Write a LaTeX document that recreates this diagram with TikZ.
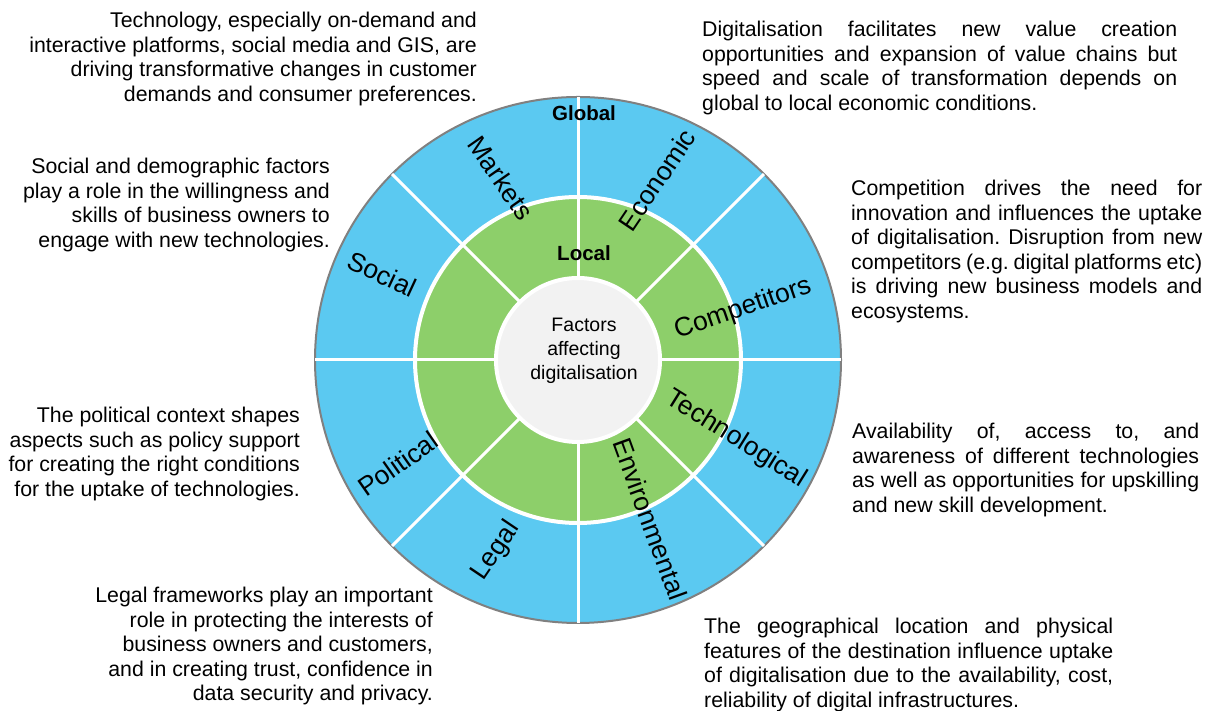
\documentclass[tikz,border=0pt]{standalone}
\usepackage{fontspec}
\setmainfont{Liberation Sans}
\frenchspacing
\definecolor{ringblue}{RGB}{91,201,241}
\definecolor{ringgreen}{RGB}{141,207,106}
\definecolor{coregrey}{RGB}{242,242,242}
\definecolor{rimgrey}{RGB}{128,128,128}
\usetikzlibrary{positioning}
\newcommand{\spreadline}[2]{\makebox[#1pt][s]{#2}}

\begin{document}
\begin{tikzpicture}[x=1pt, y=1pt,
    disc/.style={circle, inner sep=0pt, outer sep=0pt},
    spoke/.style={white, line width=3pt},
    factor/.style={inner sep=0pt, font=\fontsize{26.5}{30}\selectfont},
    tier/.style={inner sep=0pt, font=\fontsize{20.5}{24}\selectfont\bfseries},
    note/.style={inner sep=0pt, font=\fontsize{21.3}{24.5}\selectfont},
    noteleft/.style={note, anchor=north east, align=right},
    noteright/.style={note, anchor=north west, align=left}
  ]
  \useasboundingbox (0,0) rectangle (1211,711);

  % rings
  \coordinate (c) at (578,351);
  \node[disc, fill=ringblue, draw=rimgrey, line width=2pt, minimum size=526pt] (outer) at (c) {};
  \node[disc, fill=ringgreen, draw=white, line width=4pt, minimum size=326pt] (local) at (c) {};
  \node[disc, fill=coregrey, draw=white, line width=4pt, minimum size=164pt] (core) at (c) {};
  \foreach \a in {0,45,...,315}
    \draw[spoke] (core.\a) -- (outer.\a);

  \node[inner sep=0pt, align=center, font=\fontsize{19.5}{24.3}\selectfont]
    (hub) at (584,360) {Factors\\affecting\\digitalisation};
  \node[tier] (globaltag) at (584,598) {Global};
  \node[tier] (localtag) at (584,458) {Local};

  % factor labels
  \node[factor, rotate=-55] (markets) at (501,533) {Markets};
  \node[factor, rotate=56] (economic) at (657,531) {Economic};
  \node[factor, rotate=-25] (social) at (382,437) {Social};
  \node[factor, rotate=19] (competitors) at (743,402) {Competitors};
  \node[factor, rotate=-32] (technological) at (736,272) {Technological};
  \node[factor, rotate=-70] (environmental) at (650,192) {Environmental};
  \node[factor, rotate=56] (legal) at (496,160) {Legal};
  \node[factor, rotate=35] (political) at (398,247) {Political};

  % notes
  \node[noteleft] (marketsnote) at (477,699)
    {Technology, especially on-demand and\\interactive platforms, social media and GIS, are\\driving transformative changes in customer\\demands and consumer preferences.};
  \node[noteleft] (socialnote) at (330,553)
    {Social and demographic factors\\play a role in the willingness and\\skills of business owners to\\engage with new technologies.};
  \node[noteleft] (politicalnote) at (300,304)
    {The political context shapes\\aspects such as policy support\\for creating the right conditions\\for the uptake of technologies.};
  \node[noteleft] (legalnote) at (433,124)
    {Legal frameworks play an important\\role in protecting the interests of\\business owners and customers,\\and in creating trust, confidence in\\data security and privacy.};
  \node[noteright] (economicnote) at (702,690)
    {\spreadline{475}{Digitalisation facilitates new value creation}\\
     \spreadline{475}{opportunities and expansion of value chains but}\\
     \spreadline{475}{speed and scale of transformation depends on}\\
     global to local economic conditions.};
  \node[noteright] (competitorsnote) at (851,531)
    {\spreadline{351}{Competition drives the need for}\\
     \spreadline{351}{innovation and influences the uptake}\\
     \spreadline{351}{of digitalisation. Disruption from new}\\
     \spreadline{351}{competitors (e.g. digital platforms etc)}\\
     \spreadline{351}{is driving new business models and}\\
     ecosystems.};
  \node[noteright] (technologicalnote) at (852,288)
    {\spreadline{347}{Availability of, access to, and}\\
     \spreadline{347}{awareness of different technologies}\\
     \spreadline{347}{as well as opportunities for upskilling}\\
     and new skill development.};
  \node[noteright] (environmentalnote) at (704,93)
    {\spreadline{409}{The geographical location and physical}\\
     \spreadline{409}{features of the destination influence uptake}\\
     \spreadline{409}{of digitalisation due to the availability, cost,}\\
     reliability of digital infrastructures.};
\end{tikzpicture}
\end{document}
